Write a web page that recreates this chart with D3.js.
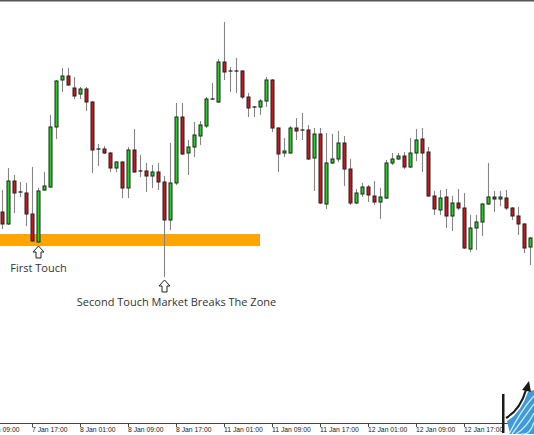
<!DOCTYPE html>
<html>
<head>
<meta charset="utf-8">
<script src="https://d3js.org/d3.v7.min.js"></script>
<style>
	body { margin: 0; background: #fff; }
	svg { display: block; }
	.tick-label { font-family: "Liberation Sans", Arial, sans-serif; font-size: 6.8px; fill: #222; }
	.note { font-family: "Open Sans", sans-serif; font-size: 11px; fill: #333; }
</style>
</head>
<body>
<svg width="534" height="435"></svg>
<script>
// hourly bars, 7 Jan 12:00 onwards
var opens = [1.08740, 1.08680, 1.08895, 1.08840, 1.08835, 1.08730, 1.08590, 1.08850, 1.08865, 1.09165,
	1.09400, 1.09420, 1.09360, 1.09330, 1.09355, 1.09290, 1.09055, 1.09055, 1.09035, 1.08960,
	1.08990, 1.08860, 1.09050, 1.08945, 1.08945, 1.08920, 1.08940, 1.08890, 1.08700, 1.08885,
	1.09215, 1.09035, 1.09065, 1.09120, 1.09170, 1.09305, 1.09290, 1.09490, 1.09445, 1.09445,
	1.09445, 1.09315, 1.09265, 1.09265, 1.09295, 1.09400, 1.09160, 1.09035, 1.09035, 1.09160,
	1.09150, 1.09150, 1.09010, 1.09130, 1.08780, 1.08985, 1.09005, 1.09085, 1.08955, 1.08785,
	1.08830, 1.08865, 1.08820, 1.08790, 1.08810, 1.08985, 1.09005, 1.09020, 1.08965, 1.09035,
	1.09105, 1.09040, 1.08820, 1.08750, 1.08815, 1.08720, 1.08785, 1.08760, 1.08555, 1.08660,
	1.08690, 1.08780, 1.08815, 1.08805, 1.08810, 1.08760, 1.08720, 1.08680, 1.08565];

var highs = [1.08850, 1.08960, 1.08925, 1.08890, 1.08885, 1.08965, 1.08860, 1.08940, 1.09225, 1.09400,
	1.09460, 1.09460, 1.09415, 1.09365, 1.09365, 1.09295, 1.09080, 1.09070, 1.09040, 1.08995,
	1.08995, 1.09065, 1.09155, 1.09025, 1.08985, 1.08975, 1.08985, 1.08920, 1.09085, 1.09285,
	1.09285, 1.09100, 1.09190, 1.09195, 1.09315, 1.09385, 1.09505, 1.09690, 1.09465, 1.09510,
	1.09450, 1.09335, 1.09270, 1.09305, 1.09415, 1.09405, 1.09165, 1.09110, 1.09170, 1.09210,
	1.09235, 1.09175, 1.09160, 1.09160, 1.09135, 1.09130, 1.09145, 1.09120, 1.09005, 1.08855,
	1.08885, 1.08875, 1.08895, 1.08860, 1.09000, 1.09035, 1.09035, 1.09040, 1.09110, 1.09155,
	1.09160, 1.09065, 1.08845, 1.08850, 1.08855, 1.08820, 1.08855, 1.08835, 1.08725, 1.08725,
	1.08785, 1.08985, 1.08845, 1.08845, 1.08850, 1.08765, 1.08765, 1.08685, 1.08615];

var lows = [1.08655, 1.08675, 1.08735, 1.08815, 1.08670, 1.08590, 1.08585, 1.08845, 1.08860, 1.09105,
	1.09340, 1.09370, 1.09305, 1.09305, 1.09245, 1.08935, 1.08970, 1.09030, 1.08940, 1.08940,
	1.08810, 1.08810, 1.08935, 1.08915, 1.08840, 1.08860, 1.08850, 1.08415, 1.08650, 1.08875,
	1.09025, 1.08925, 1.09015, 1.09075, 1.09160, 1.09300, 1.09285, 1.09400, 1.09340, 1.09335,
	1.09305, 1.09215, 1.09215, 1.09225, 1.09265, 1.09140, 1.08940, 1.09015, 1.09030, 1.09100,
	1.09100, 1.09000, 1.08845, 1.08780, 1.08755, 1.08980, 1.08990, 1.08870, 1.08775, 1.08780,
	1.08815, 1.08790, 1.08775, 1.08705, 1.08805, 1.08975, 1.09000, 1.08955, 1.08960, 1.08995,
	1.08940, 1.08815, 1.08725, 1.08725, 1.08660, 1.08645, 1.08750, 1.08555, 1.08540, 1.08550,
	1.08620, 1.08775, 1.08740, 1.08770, 1.08750, 1.08700, 1.08625, 1.08535, 1.08475];

var closes = [1.08680, 1.08895, 1.08835, 1.08840, 1.08730, 1.08595, 1.08845, 1.08870, 1.09165, 1.09395,
	1.09420, 1.09375, 1.09320, 1.09355, 1.09290, 1.09050, 1.09055, 1.09035, 1.08960, 1.08990,
	1.08860, 1.09050, 1.08940, 1.08945, 1.08920, 1.08940, 1.08890, 1.08700, 1.08885, 1.09215,
	1.09030, 1.09065, 1.09125, 1.09175, 1.09305, 1.09305, 1.09490, 1.09440, 1.09445, 1.09445,
	1.09315, 1.09260, 1.09265, 1.09295, 1.09400, 1.09160, 1.09030, 1.09045, 1.09160, 1.09145,
	1.09150, 1.09005, 1.09130, 1.08785, 1.08985, 1.09005, 1.09085, 1.08955, 1.08785, 1.08835,
	1.08865, 1.08825, 1.08790, 1.08815, 1.08985, 1.09005, 1.09020, 1.08965, 1.09035, 1.09100,
	1.09035, 1.08820, 1.08755, 1.08810, 1.08720, 1.08785, 1.08760, 1.08560, 1.08660, 1.08690,
	1.08780, 1.08815, 1.08805, 1.08815, 1.08760, 1.08720, 1.08680, 1.08560, 1.08610];

// one time label every 8 bars, first one 3 bars before the first bar
var tickLabels = ["7 Jan 09:00", "7 Jan 17:00", "8 Jan 01:00", "8 Jan 09:00", "8 Jan 17:00", "11 Jan 01:00",
	"11 Jan 09:00", "11 Jan 17:00", "12 Jan 01:00", "12 Jan 09:00", "12 Jan 17:00", "13 Jan 01:00"];
var firstTickBar = -3,
	barsPerTick = 8;

// support zone
var zoneTop = 1.08630,
	zoneBottom = 1.08570,
	zoneFrom = -1,
	zoneTo = 43;

var notes = ["First Touch", "Second Touch Market Breaks The Zone"];
var noteBars = [6, 27];

var svg = d3.select("svg"),
	width = +svg.attr("width"),
	height = +svg.attr("height"),
	axisY = 423,
	upColor = "#1ed41e",
	downColor = "#c8171d";

var x = d3.scaleLinear().domain([0, opens.length - 1]).range([2, 530]);
var y = d3.scaleLinear().domain([1.07685, 1.09800]).range([axisY, 0]);

var bars = opens.map(function(o, i) {
	return {i: i, o: o, h: highs[i], l: lows[i], c: closes[i]};
});

// top frame line
svg.append("rect")
	.attr("x", 0).attr("y", 0)
	.attr("width", width).attr("height", 1.5)
	.attr("fill", "#555");

// the zone goes under the candles
svg.append("rect")
	.attr("x", x(zoneFrom))
	.attr("y", y(zoneTop))
	.attr("width", x(zoneTo) - x(zoneFrom))
	.attr("height", y(zoneBottom) - y(zoneTop))
	.attr("fill", "#ffa500");

// ** CANDLES **
var candle = svg.selectAll("g.candle")
	.data(bars)
	.enter().append("g")
		.attr("class", "candle")
		.attr("transform", function(d) { return "translate(" + (x(d.i) + 0.5) + ",0)"; });

candle.append("line")
	.attr("y1", function(d) { return y(d.h); })
	.attr("y2", function(d) { return y(d.l); })
	.attr("stroke", "#858585")
	.attr("stroke-width", 1.1);

candle.filter(function(d) { return d.o !== d.c; })
	.append("rect")
		.attr("x", -1.5)
		.attr("width", 3)
		.attr("y", function(d) { return y(Math.max(d.o, d.c)); })
		.attr("height", function(d) { return Math.abs(y(d.o) - y(d.c)); })
		.attr("fill", function(d) { return d.c > d.o ? upColor : downColor; })
		.attr("stroke", "#222")
		.attr("stroke-width", 1);

// doji bars are just a dash
candle.filter(function(d) { return d.o === d.c; })
	.append("line")
		.attr("x1", -2).attr("x2", 2)
		.attr("y1", function(d) { return y(d.o); })
		.attr("y2", function(d) { return y(d.o); })
		.attr("stroke", "#222")
		.attr("stroke-width", 1.3);

// ** ANNOTATIONS **
var arrow = "M0,0 L5.5,6 L2.5,6 L2.5,12 L-2.5,12 L-2.5,6 L-5.5,6 Z";
var noteShift = [0, 12];

noteBars.forEach(function(b, k) {
	var ax = x(b) + 0.5,
		ay = y(lows[b]) + 3;
	svg.append("path")
		.attr("d", arrow)
		.attr("transform", "translate(" + ax + "," + ay + ")")
		.attr("fill", "#fff")
		.attr("stroke", "#222")
		.attr("stroke-width", 1);
	svg.append("text")
		.attr("class", "note")
		.attr("x", ax + noteShift[k])
		.attr("y", ay + 26)
		.attr("text-anchor", "middle")
		.text(notes[k]);
});

// ** TIME AXIS **
svg.append("line")
	.attr("x1", 0).attr("x2", width)
	.attr("y1", axisY + 0.5).attr("y2", axisY + 0.5)
	.attr("stroke", "#444");

var ticks = svg.selectAll("g.tick")
	.data(tickLabels)
	.enter().append("g")
		.attr("class", "tick")
		.attr("transform", function(d, i) {
			return "translate(" + x(firstTickBar + i * barsPerTick) + "," + axisY + ")";
		});

ticks.append("line")
	.attr("x1", 0.5).attr("x2", 0.5)
	.attr("y1", 0).attr("y2", 4)
	.attr("stroke", "#444");

ticks.append("text")
	.attr("class", "tick-label")
	.attr("x", 0)
	.attr("y", 9)
	.text(function(d) { return d; });

// ** LOGO ** (bottom right corner)
var logo = svg.append("g");

logo.append("rect")
	.attr("x", 505).attr("y", 424)
	.attr("width", 29).attr("height", 11)
	.attr("fill", "#fff").attr("opacity", 0.55);

// blue fan under the arrow
logo.append("path")
	.attr("d", "M507,421 Q521,413 528,392 L534,390 L534,434 L510,434 Z")
	.attr("fill", "#3f9ad8");

[[509, 521, 396], [512, 524, 404], [516, 527, 413], [521, 530, 422]].forEach(function(p) {
	logo.append("path")
		.attr("d", "M" + p[0] + ",434 Q" + p[1] + "," + (p[2] + 14) + " 534," + p[2])
		.attr("fill", "none")
		.attr("stroke", "#cde9f9")
		.attr("stroke-width", 1.3);
});

logo.append("rect")
	.attr("x", 502).attr("y", 394)
	.attr("width", 2.5).attr("height", 39)
	.attr("fill", "#1a1a1a");

logo.append("path")
	.attr("d", "M506,418 Q520,410 526,390")
	.attr("fill", "none")
	.attr("stroke", "#1a1a1a")
	.attr("stroke-width", 2.2);

logo.append("path")
	.attr("d", "M529,381 L522,390 L531,392 Z")
	.attr("fill", "#1a1a1a");
</script>
</body>
</html>
